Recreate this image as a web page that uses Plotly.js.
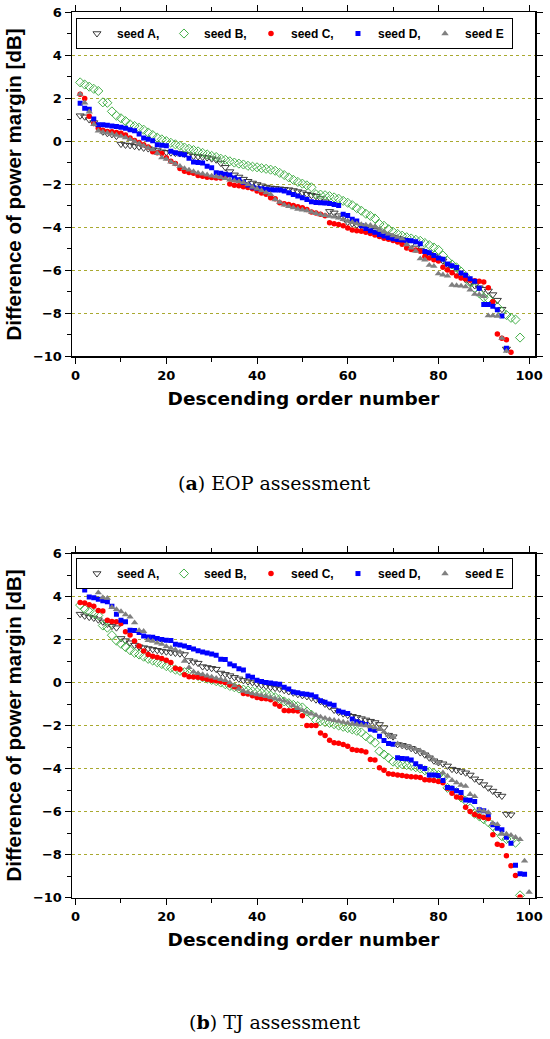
<!DOCTYPE html>
<html>
<head>
<meta charset="utf-8">
<script src="https://cdn.plot.ly/plotly-3.0.1.min.js"></script>
<style>html,body{margin:0;padding:0;background:#fff;}#chart{width:550px;height:1039px;}</style>
</head>
<body>
<div id="chart"></div>
<script>
// ---------- DATA ----------
var seriesNames = ["seed A,", "seed B,", "seed C,", "seed D,", "seed E"];
var xTickVals = [0, 20, 40, 60, 80, 100];
var yTickVals = [-10, -8, -6, -4, -2, 0, 2, 4, 6];

// (a) EOP assessment
var eopSeedA = [1.2, 1.15, 1.02, 0.88, 0.72, 0.45, 0.38, 0.33, 0.25, -0.12,
 -0.16, -0.18, -0.22, -0.25, -0.3, -0.33, -0.38, -0.42, -0.48, -0.5,
 -0.52, -0.54, -0.56, -0.58, -0.62, -0.68, -0.7, -0.72, -0.75, -0.8,
 -0.85, -1.0, -1.2, -1.4, -1.55, -1.65, -1.75, -1.85, -1.93, -2.0,
 -2.06, -2.12, -2.16, -2.18, -2.2, -2.22, -2.24, -2.28, -2.33, -2.38,
 -2.45, -2.5, -2.55, -2.65, -2.8, -3.25, -3.32, -3.45, -3.55, -3.75,
 -3.82, -3.88, -3.93, -3.98, -4.06, -4.14, -4.25, -4.32, -4.38, -4.45,
 -4.5, -4.56, -4.64, -4.78, -4.95, -5.05, -5.15, -5.25, -5.35, -5.45,
 -5.55, -5.72, -5.95, -6.1, -6.25, -6.42, -6.55, -6.7, -6.8, -6.87,
 -6.95, -7.12, -7.38, -7.8, -9.65];
var eopSeedB = [2.75, 2.65, 2.55, 2.45, 2.35, 1.82, 1.8, 1.4, 1.2, 1.08,
 0.95, 0.8, 0.72, 0.64, 0.55, 0.42, 0.3, 0.18, 0.1, 0.02,
 -0.06, -0.13, -0.2, -0.28, -0.34, -0.4, -0.46, -0.53, -0.6, -0.67,
 -0.72, -0.8, -0.85, -0.92, -0.98, -1.03, -1.07, -1.13, -1.17, -1.2,
 -1.24, -1.27, -1.31, -1.36, -1.46, -1.56, -1.67, -1.78, -1.88, -1.96,
 -2.04, -2.13, -2.45, -2.47, -2.5, -2.54, -2.6, -2.66, -2.76, -2.85,
 -2.96, -3.1, -3.22, -3.36, -3.46, -3.58, -3.84, -3.92, -4.08, -4.2,
 -4.3, -4.38, -4.45, -4.51, -4.57, -4.62, -4.72, -4.82, -4.93, -5.04,
 -5.3, -5.55, -5.72, -5.86, -6.05, -6.28, -6.55, -6.82, -7.05, -7.25,
 -7.32, -7.5, -7.7, -7.92, -8.07, -8.2, -8.28, -9.12];
var eopSeedC = [2.2, 2.0, 1.17, 0.84, 0.62, 0.52, 0.47, 0.45, 0.42, 0.38,
 0.3, 0.16, 0.05, -0.05, -0.15, -0.25, -0.48, -0.52, -0.56, -0.75,
 -0.92, -1.02, -1.25, -1.38, -1.44, -1.48, -1.58, -1.62, -1.66, -1.68,
 -1.7, -1.7, -1.62, -1.98, -2.03, -2.06, -2.1, -2.14, -2.2, -2.3,
 -2.4, -2.45, -2.62, -2.66, -2.85, -2.9, -2.93, -2.98, -3.03, -3.08,
 -3.16, -3.28, -3.32, -3.38, -3.45, -3.78, -3.82, -3.86, -3.92, -4.02,
 -4.12, -4.15, -4.18, -4.22, -4.28, -4.35, -4.42, -4.5, -4.55, -4.6,
 -4.68, -4.78, -4.95, -5.02, -5.05, -5.1, -5.35, -5.42, -5.5, -5.56,
 -5.85, -5.98, -6.1, -6.25, -6.35, -6.4, -6.45, -6.48, -6.5, -6.53,
 -6.8, -7.45, -8.95, -9.15, -9.22, -9.8];
var eopSeedD = [1.78, 1.55, 1.5, 1.05, 0.78, 0.78, 0.76, 0.72, 0.7, 0.66,
 0.62, 0.55, 0.5, 0.35, 0.16, 0.1, 0.04, -0.15, -0.18, -0.2,
 -0.45, -0.52, -0.58, -0.62, -0.78, -0.95, -0.98, -1.0, -1.15, -1.22,
 -1.45, -1.48, -1.52, -1.56, -1.7, -1.78, -1.9, -2.02, -2.12, -2.18,
 -2.2, -2.22, -2.24, -2.26, -2.26, -2.3, -2.38, -2.46, -2.54, -2.62,
 -2.7, -2.8, -2.84, -2.85, -2.86, -2.88, -2.93, -2.98, -3.38, -3.44,
 -3.62, -3.7, -3.92, -4.05, -4.15, -4.22, -4.32, -4.4, -4.47, -4.52,
 -4.56, -4.58, -4.6, -4.62, -4.66, -4.76, -5.12, -5.18, -5.3, -5.42,
 -5.48, -5.7, -5.78, -5.86, -6.12, -6.22, -6.38, -6.5, -6.82, -7.58,
 -7.58, -7.66, -7.82, -8.12, -9.62];
var eopSeedE = [2.2, 1.8, 1.38, 0.8, 0.5, 0.44, 0.4, 0.35, 0.3, 0.25,
 0.18, 0.1, 0.0, -0.1, -0.2, -0.3, -0.38, -0.55, -0.75, -0.82,
 -0.95, -1.05, -1.15, -1.25, -1.32, -1.4, -1.46, -1.5, -1.55, -1.6,
 -1.63, -1.67, -1.72, -1.78, -1.82, -1.86, -1.9, -2.0, -2.12, -2.2,
 -2.28, -2.38, -2.46, -2.7, -2.82, -2.95, -3.02, -3.08, -3.14, -3.18,
 -3.22, -3.28, -3.34, -3.4, -3.44, -3.47, -3.5, -3.55, -3.62, -3.7,
 -3.76, -3.82, -3.86, -3.88, -3.9, -3.95, -4.08, -4.2, -4.3, -4.38,
 -4.45, -4.52, -4.8, -4.95, -5.1, -5.45, -5.5, -5.75, -5.8, -6.15,
 -6.2, -6.25, -6.68, -6.7, -6.72, -6.75, -6.9, -7.1, -7.12, -7.2,
 -8.1, -8.1, -8.12, -9.15, -9.75];

// (b) TJ assessment
var tjSeedA = [3.18, 3.1, 3.04, 3.0, 2.92, 2.82, 2.72, 2.62, 2.55, 2.05,
 1.95, 1.85, 1.74, 1.66, 1.62, 1.58, 1.54, 1.5, 1.46, 1.43,
 1.4, 1.37, 1.34, 1.3, 1.02, 0.96, 0.9, 0.74, 0.7, 0.66,
 0.62, 0.44, 0.38, 0.32, 0.24, 0.17, 0.1, 0.04, 0.0, -0.06,
 -0.12, -0.17, -0.22, -0.26, -0.3, -0.36, -0.42, -0.48, -0.55, -0.6,
 -0.65, -0.72, -0.8, -0.88, -1.0, -1.12, -1.28, -1.38, -1.45, -1.52,
 -1.57, -1.62, -1.68, -1.74, -1.8, -1.86, -1.95, -2.1, -2.45, -2.52,
 -2.88, -2.92, -2.98, -3.06, -3.16, -3.26, -3.36, -3.5, -3.64, -3.72,
 -3.78, -3.88, -4.03, -4.08, -4.14, -4.2, -4.3, -4.48, -4.6, -4.75,
 -4.9, -5.05, -5.2, -5.28, -6.12, -6.15];
var tjSeedB = [3.6, 3.42, 3.3, 3.2, 3.12, 2.65, 2.55, 2.2, 1.95, 1.8,
 1.65, 1.5, 1.38, 1.3, 1.2, 1.1, 1.02, 0.94, 0.86, 0.76,
 0.68, 0.6, 0.54, 0.48, 0.42, 0.36, 0.3, 0.24, 0.18, 0.12,
 0.06, 0.0, -0.08, -0.16, -0.22, -0.28, -0.33, -0.37, -0.41, -0.44,
 -0.48, -0.53, -0.6, -0.68, -0.78, -0.88, -0.96, -1.04, -1.1, -1.16,
 -1.35, -1.5, -1.76, -1.8, -1.84, -1.88, -1.94, -2.0, -2.06, -2.12,
 -2.18, -2.25, -2.32, -2.5, -2.65, -2.8, -3.2, -3.35, -3.5, -3.68,
 -3.76, -3.8, -3.84, -3.88, -3.94, -4.0, -4.08, -4.15, -4.22, -4.3,
 -4.45, -4.9, -5.0, -5.1, -5.35, -5.5, -5.85, -6.1, -6.22, -6.36,
 -6.5, -6.68, -6.9, -7.15, -7.28, -7.36, -7.45, -9.9];
var tjSeedC = [3.72, 3.7, 3.62, 3.55, 3.35, 3.32, 2.89, 2.84, 2.83, 2.74,
 2.36, 2.21, 1.93, 1.7, 1.47, 1.3, 1.22, 1.17, 1.12, 1.04,
 0.93, 0.66, 0.62, 0.36, 0.27, 0.26, 0.24, 0.2, 0.15, 0.11,
 0.08, 0.05, 0.0, -0.12, -0.2, -0.24, -0.51, -0.54, -0.62, -0.7,
 -0.74, -0.76, -0.8, -1.0, -1.11, -1.3, -1.31, -1.31, -1.32, -1.55,
 -2.0, -2.0, -2.0, -2.35, -2.46, -2.69, -2.8, -2.82, -2.88, -2.97,
 -3.12, -3.15, -3.18, -3.23, -3.58, -3.6, -3.97, -4.08, -4.24, -4.27,
 -4.3, -4.33, -4.36, -4.38, -4.4, -4.42, -4.52, -4.54, -4.56, -4.6,
 -4.66, -4.92, -5.15, -5.33, -5.36, -5.8, -6.0, -6.14, -6.22, -6.28,
 -6.33, -7.08, -7.52, -7.58, -8.06, -8.52, -8.98, -9.98];
var tjSeedD = [4.7, 4.3, 3.98, 3.94, 3.87, 3.8, 3.76, 3.55, 3.17, 2.9,
 2.83, 2.43, 2.42, 2.32, 2.16, 2.12, 2.1, 2.05, 2.0, 1.97,
 1.95, 1.78, 1.74, 1.7, 1.63, 1.56, 1.48, 1.42, 1.37, 1.32,
 1.27, 1.08, 1.07, 0.86, 0.78, 0.64, 0.58, 0.3, 0.24, 0.1,
 0.05, 0.0, -0.02, -0.06, -0.08, -0.22, -0.3, -0.44, -0.48, -0.52,
 -0.55, -0.58, -0.66, -0.85, -0.92, -1.0, -1.06, -1.33, -1.38, -1.44,
 -1.7, -1.82, -1.9, -1.95, -2.18, -2.22, -2.5, -2.7, -2.84, -2.87,
 -3.5, -3.54, -3.55, -3.6, -3.78, -3.92, -4.0, -4.3, -4.3, -4.33,
 -4.56, -4.88, -4.92, -5.04, -5.12, -5.46, -5.48, -5.54, -5.92, -5.96,
 -6.15, -6.62, -6.78, -6.85, -7.2, -7.48, -8.5, -8.9, -8.92];
var tjSeedE = [4.65, 4.52, 4.46, 4.44, 4.18, 3.95, 3.92, 3.5, 3.4, 3.3,
 3.16, 3.05, 2.78, 2.42, 2.38, 1.96, 1.92, 1.84, 1.78, 1.68,
 1.6, 1.52, 1.42, 1.0, 0.7, 0.5, 0.42, 0.37, 0.31, 0.26,
 0.2, 0.15, 0.1, 0.0, -0.15, -0.3, -0.4, -0.46, -0.52, -0.56,
 -0.6, -0.64, -0.7, -0.75, -0.8, -0.86, -0.95, -1.08, -1.2, -1.3,
 -1.38, -1.46, -1.52, -1.6, -1.66, -1.72, -1.76, -1.8, -1.84, -1.88,
 -1.92, -1.95, -1.98, -2.0, -2.05, -2.1, -2.18, -2.3, -2.45, -2.55,
 -2.85, -2.92, -2.98, -3.04, -3.1, -3.18, -3.3, -3.45, -3.6, -3.75,
 -4.2, -4.35, -4.55, -4.66, -4.77, -4.82, -5.2, -5.3, -5.92, -5.98,
 -6.05, -6.55, -6.6, -7.05, -7.05, -7.1, -7.2, -7.3, -8.3, -9.75];

// ---------- STYLE ----------
var SANS = "Liberation Sans, Arial, sans-serif";
var WIDE = "DejaVu Sans, sans-serif";
var SERIF = "DejaVu Serif, serif";
var markerStyles = [
  {symbol: "triangle-down-open", color: "#3a3a3a", size: 7, line: {width: 1, color: "#3a3a3a"}},
  {symbol: "diamond-open", color: "#45b04a", size: 7, line: {width: 1, color: "#45b04a"}},
  {symbol: "circle", color: "#ff0000", size: 5.5},
  {symbol: "square", color: "#0000ff", size: 5},
  {symbol: "triangle-up", color: "#808080", size: 6.5}
];

function order(arr) { var o = []; for (var i = 0; i < arr.length; i++) o.push(i + 1); return o; }

function makeTraces(sets, xa, ya, legendId) {
  return sets.map(function (vals, k) {
    return {
      type: "scatter", mode: "markers",
      x: order(vals), y: vals,
      xaxis: xa, yaxis: ya,
      name: seriesNames[k],
      legend: legendId,
      marker: markerStyles[k],
      hoverinfo: "x+y"
    };
  });
}

var traces = makeTraces([eopSeedA, eopSeedB, eopSeedC, eopSeedD, eopSeedE], "x", "y", "legend")
  .concat(makeTraces([tjSeedA, tjSeedB, tjSeedC, tjSeedD, tjSeedE], "x2", "y2", "legend2"));

function xAxis(anchor) {
  return {
    anchor: anchor, domain: [0, 1], range: [-0.8, 101.3],
    tickmode: "array", tickvals: xTickVals,
    ticks: "outside", ticklen: 6, tickwidth: 1, tickcolor: "#000",
    minor: {dtick: 10, tick0: 0, ticks: "outside", ticklen: 4, tickwidth: 1, tickcolor: "#000"},
    showline: true, linecolor: "#000", linewidth: 1.5, mirror: "ticks",
    showgrid: false, zeroline: false,
    tickfont: {family: WIDE, size: 13, color: "#000", weight: "bold"},
    title: {text: "Descending order number", font: {family: WIDE, size: 18.5, color: "#000", weight: "bold"}, standoff: 10}
  };
}
function yAxis(anchor, dom) {
  return {
    anchor: anchor, domain: dom, range: [-10, 6],
    tickmode: "array", tickvals: yTickVals,
    ticks: "outside", ticklen: 6, tickwidth: 1, tickcolor: "#000",
    minor: {dtick: 1, tick0: 0, ticks: "outside", ticklen: 3.5, tickwidth: 1, tickcolor: "#000", showgrid: false},
    showline: true, linecolor: "#000", linewidth: 1.5, mirror: "ticks",
    showgrid: true, gridcolor: "#a9a930", griddash: "dot", gridwidth: 1,
    zeroline: false,
    tickfont: {family: WIDE, size: 13, color: "#000", weight: "bold"},
    title: {text: "Difference of power margin [dB]", font: {family: SANS, size: 20.5, color: "#000", weight: "bold"}, standoff: 5}
  };
}
function legendBox(y) {
  return {
    x: 0.0086, y: y, xanchor: "left", yanchor: "top", xref: "paper", yref: "paper",
    orientation: "h", bgcolor: "#fff", bordercolor: "#000", borderwidth: 1,
    font: {family: SANS, size: 12, color: "#000", weight: "bold"},
    entrywidth: 42, entrywidthmode: "pixels", itemclick: false
  };
}

var layout = {
  width: 550, height: 1039,
  margin: {l: 72, r: 15, t: 12, b: 141},
  paper_bgcolor: "#fff", plot_bgcolor: "#fff",
  showlegend: true,
  xaxis: xAxis("y"),
  yaxis: yAxis("x", [0.611174, 0.999436]),
  xaxis2: xAxis("y2"),
  yaxis2: yAxis("x2", [0.000564, 0.388826]),
  legend: legendBox(0.9932),
  legend2: legendBox(0.3837),
  annotations: [
    {text: "(<b>a</b>) EOP assessment", xref: "paper", yref: "paper", x: 0.438, y: 0.4684,
     xanchor: "center", yanchor: "middle", showarrow: false, font: {family: SERIF, size: 19, color: "#000"}},
    {text: "(<b>b</b>) TJ assessment", xref: "paper", yref: "paper", x: 0.438, y: -0.1400,
     xanchor: "center", yanchor: "middle", showarrow: false, font: {family: SERIF, size: 19, color: "#000"}}
  ]
};

Plotly.newPlot("chart", traces, layout, {displayModeBar: false, staticPlot: true});
</script>
</body>
</html>
